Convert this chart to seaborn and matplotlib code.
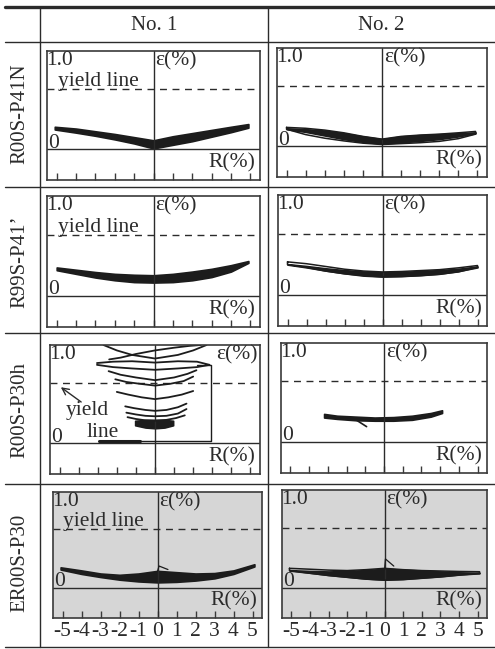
import numpy as np
import seaborn as sns
import matplotlib.pyplot as plt

sns.set_theme(style="white")
plt.rcParams['font.family'] = ['Liberation Serif', 'DejaVu Serif']

W, H = 495, 649
INK = '#2b2b2b'
FILL = '#1c1c1c'
FS = 15
PFS = 15.5

col_titles = ['No. 1', 'No. 2']
row_titles = ['R00S-P41N', 'R99S-P41\u2019', 'R00S-P30h', 'ER00S-P30']
r_ticks = [-5, -4, -3, -2, -1, 0, 1, 2, 3, 4, 5]
r_ticklabels = ['-5', '-4', '-3', '-2', '-1', '0', '1', '2', '3', '4', '5']
yield_strain = 0.667

# R00S-P41N  No.1 (dense band, V shape)
p11_r = [-5.1, -4, -3, -2, -1, 0, 1, 2, 3, 4, 4.9]
p11_up = [0.25, 0.23, 0.20, 0.17, 0.135, 0.10, 0.145, 0.18, 0.215, 0.25, 0.28]
p11_lo = [0.22, 0.185, 0.15, 0.11, 0.065, 0.01, 0.05, 0.09, 0.14, 0.19, 0.24]

# R00S-P41N  No.2
p12_r = [-5, -4, -3, -2, -1, 0, 1, 2, 3, 4, 4.9]
p12_out_up = [0.21, 0.20, 0.18, 0.15, 0.11, 0.08, 0.11, 0.125, 0.135, 0.15, 0.165]
p12_out_lo = [0.19, 0.13, 0.09, 0.06, 0.035, 0.02, 0.03, 0.04, 0.055, 0.085, 0.135]
p12_core_up = [0.20, 0.19, 0.175, 0.145, 0.11, 0.08, 0.11, 0.125, 0.135, 0.145, 0.155]
p12_core_lo = [0.19, 0.16, 0.12, 0.08, 0.05, 0.03, 0.045, 0.06, 0.08, 0.11, 0.145]

# R99S-P41'  No.1
p21_r = [-5, -4, -3, -2, -1, 0, 1, 2, 3, 4, 4.9]
p21_up = [0.31, 0.285, 0.26, 0.24, 0.23, 0.225, 0.24, 0.265, 0.295, 0.335, 0.38]
p21_lo = [0.28, 0.24, 0.20, 0.17, 0.15, 0.145, 0.15, 0.17, 0.205, 0.265, 0.36]

# R99S-P41'  No.2
p22_r = [-5, -4, -3, -2, -1, 0, 1, 2, 3, 4, 5]
p22_out_up = [0.36, 0.34, 0.31, 0.28, 0.26, 0.25, 0.255, 0.265, 0.275, 0.295, 0.32]
p22_out_lo = [0.33, 0.30, 0.26, 0.23, 0.21, 0.196, 0.20, 0.21, 0.225, 0.25, 0.30]
p22_core_up = [0.335, 0.315, 0.29, 0.27, 0.255, 0.245, 0.25, 0.26, 0.27, 0.285, 0.31]
p22_core_lo = [0.33, 0.30, 0.265, 0.235, 0.21, 0.20, 0.205, 0.215, 0.23, 0.26, 0.30]

# R00S-P30h  No.1 : individual loops climbing upward
p31_loops = [
    ([-2.7, -2.0, -1.2, 0, 1.2, 2.0, 2.7], [1.09, 1.03, 0.98, 0.94, 0.98, 1.03, 1.09]),
    ([-2.4, -1.8, -1.0, 0, 1.0, 1.8, 2.4], [0.93, 0.95, 0.99, 1.03, 1.06, 1.08, 1.09]),
    ([-3.04, -2.2, -1.2, 0, 1.2, 2.2, 2.86, 2.2, 1.2, 0, -1.2, -2.2, -3.04],
     [0.89, 0.905, 0.91, 0.895, 0.91, 0.905, 0.87, 0.845, 0.83, 0.815, 0.83, 0.845, 0.87]),
    ([-2.43, -1.8, -1.0, 0, 1.0, 1.7, 2.17], [0.80, 0.76, 0.73, 0.70, 0.73, 0.77, 0.81]),
    ([-2.08, -1.5, -0.8, 0, 0.8, 1.5, 2.0], [0.71, 0.68, 0.66, 0.64, 0.66, 0.69, 0.74]),
    ([-2.0, -1.4, -0.7, 0, 0.7, 1.4, 2.0], [0.57, 0.54, 0.51, 0.49, 0.51, 0.54, 0.58]),
    ([-1.56, -1.1, -0.5, 0, 0.6, 1.2, 1.65], [0.41, 0.39, 0.37, 0.36, 0.37, 0.40, 0.44]),
    ([-1.5, -1.0, -0.5, 0, 0.6, 1.2, 1.65], [0.34, 0.32, 0.305, 0.30, 0.305, 0.33, 0.38]),
    ([-1.44, -1.0, -0.5, 0, 0.6, 1.1, 1.56], [0.29, 0.27, 0.255, 0.25, 0.26, 0.28, 0.31]),
]
p31_blob_r = [-1.04, -0.5, 0, 0.5, 0.95]
p31_blob_up = [0.25, 0.26, 0.26, 0.26, 0.25]
p31_blob_lo = [0.2, 0.175, 0.167, 0.175, 0.2]
p31_frame_r = [-2.95, 2.95, 2.95, 2.2]
p31_frame_e = [0.03, 0.03, 0.87, 0.87]

# R00S-P30h  No.2
p32_r = [-3.2, -2.5, -1.5, -0.5, 0.5, 1.5, 2.5, 3.1]
p32_up = [0.31, 0.29, 0.28, 0.27, 0.275, 0.29, 0.32, 0.35]
p32_lo = [0.27, 0.255, 0.24, 0.235, 0.235, 0.245, 0.28, 0.32]
p32_tail_r = [-1.46, -0.93]
p32_tail_e = [0.24, 0.17]

# ER00S-P30  No.1
p41_r = [-5.1, -4, -3, -2, -1, 0, 1, 2, 3, 4, 5.1]
p41_up = [0.235, 0.20, 0.165, 0.15, 0.165, 0.195, 0.18, 0.165, 0.17, 0.20, 0.27]
p41_lo = [0.21, 0.16, 0.125, 0.095, 0.075, 0.064, 0.07, 0.085, 0.11, 0.16, 0.245]
p41_spike_r = [0, 0.08, 0.55]
p41_spike_e = [0.19, 0.25, 0.21]

# ER00S-P30  No.2
p42_r = [-5.1, -4, -3, -2, -1, 0, 1, 2, 3, 4, 5.1]
p42_out_up = [0.215, 0.205, 0.195, 0.19, 0.20, 0.215, 0.20, 0.19, 0.185, 0.18, 0.177]
p42_out_lo = [0.19, 0.16, 0.135, 0.115, 0.095, 0.083, 0.09, 0.105, 0.12, 0.14, 0.158]
p42_core_up = [0.195, 0.185, 0.18, 0.185, 0.195, 0.21, 0.20, 0.19, 0.18, 0.17, 0.165]
p42_core_lo = [0.19, 0.165, 0.14, 0.12, 0.10, 0.088, 0.095, 0.11, 0.125, 0.145, 0.16]
p42_spike_r = [0, 0.05, 0.5]
p42_spike_e = [0.2, 0.32, 0.24]

# panel boxes in pixels (left, top, right, bottom)
boxes = {
    (0, 0): (47, 51, 260, 180), (0, 1): (277, 48, 487, 177),
    (1, 0): (47, 196, 260, 327), (1, 1): (278, 195, 487, 326),
    (2, 0): (50, 345, 260, 474), (2, 1): (281, 343, 487, 473),
    (3, 0): (53, 492, 262, 618), (3, 1): (282, 490, 487, 618),
}


def rect(l, t, r, b):
    return [l / W, 1 - b / H, (r - l) / W, (b - t) / H]


def line(ax, x, y, lw=1.2):
    sns.lineplot(x=x, y=y, sort=False, estimator=None, color=FILL,
                 linewidth=lw, ax=ax)


def band(ax, r, lo, up):
    ax.fill_between(r, lo, up, color=FILL, linewidth=1.2, edgecolor=FILL)


def loop(ax, r, up, lo, lw=1.1):
    line(ax, list(r) + list(r[::-1]) + [r[0]], list(up) + list(lo[::-1]) + [up[0]], lw)


fig = plt.figure(figsize=(W / 100, H / 100), dpi=100)
fig.patch.set_facecolor('white')

# table frame
tab = fig.add_axes([0, 0, 1, 1])
tab.set_xlim(0, W)
tab.set_ylim(H, 0)
tab.axis('off')
tab.plot([5, W], [7, 7], color=INK, lw=2.4)
for yy in [42, 187, 333, 484, 647]:
    tab.plot([5, W], [yy, yy], color=INK, lw=1.0)
for xx in [40, 268]:
    tab.plot([xx, xx], [7, 647], color=INK, lw=1.0)
tab.text(154, 25, col_titles[0], ha='center', va='center', fontsize=FS, color=INK)
tab.text(381, 25, col_titles[1], ha='center', va='center', fontsize=FS, color=INK)
for yc, lab in zip([114, 262, 410, 563], row_titles):
    tab.text(20, yc, lab, ha='center', va='center', rotation=90, fontsize=FS, color=INK)

for (i, j), b in boxes.items():
    ax = fig.add_axes(rect(*b))
    ax.set_xlim(-5.5, 5.5)
    ax.set_ylim(-0.34, 1.09)
    ax.set_facecolor('#d6d6d6' if i == 3 else 'white')
    for s in ax.spines.values():
        s.set_color('#3a3a3a')
        s.set_linewidth(1.2)
    ax.set_xticks(r_ticks)
    ax.set_yticks([])
    ax.tick_params(axis='x', bottom=True, direction='in', length=5, width=1,
                   color='#3a3a3a', labelsize=PFS, labelcolor=INK, pad=3,
                   labelbottom=(i == 3))
    if i == 3:
        ax.set_xticklabels(r_ticklabels)
    ax.axhline(0, color=INK, lw=1.0)
    ax.axvline(0, color=INK, lw=1.0)
    ax.axhline(yield_strain, color=INK, lw=1.0, ls=(0, (5, 4)))

    ax.text(-5.55, 1.09, '1.0', ha='left', va='top', fontsize=PFS, color=INK)
    ax.text(-5.45, 0.02, '0', ha='left', va='baseline', fontsize=PFS, color=INK)
    ax.text(5.25, -0.2, 'R(%)', ha='right', va='baseline', fontsize=PFS, color=INK)
    if (i, j) == (2, 0):
        ax.text(5.35, 1.09, '\u03b5(%)', ha='right', va='top', fontsize=PFS, color=INK)
    else:
        ax.text(0.1, 1.09, '\u03b5(%)', ha='left', va='top', fontsize=PFS, color=INK)
    if j == 0 and i != 2:
        ax.text(-4.95, 0.70, 'yield line', ha='left', va='baseline', fontsize=PFS, color=INK)

    if (i, j) == (0, 0):
        band(ax, p11_r, p11_lo, p11_up)
    elif (i, j) == (0, 1):
        loop(ax, p12_r, p12_out_up, p12_out_lo)
        band(ax, p12_r, p12_core_lo, p12_core_up)
    elif (i, j) == (1, 0):
        band(ax, p21_r, p21_lo, p21_up)
    elif (i, j) == (1, 1):
        loop(ax, p22_r, p22_out_up, p22_out_lo)
        band(ax, p22_r, p22_core_lo, p22_core_up)
    elif (i, j) == (2, 0):
        for lr, le in p31_loops:
            line(ax, lr, le, 1.3)
        band(ax, p31_blob_r, p31_blob_lo, p31_blob_up)
        line(ax, p31_frame_r, p31_frame_e, 1.0)
        line(ax, [-2.95, -0.8], [0.03, 0.03], 2.2)
        ax.text(-4.7, 0.315, 'yield', ha='left', va='baseline', fontsize=PFS, color=INK)
        ax.text(-3.6, 0.07, 'line', ha='left', va='baseline', fontsize=PFS, color=INK)
        ax.annotate('', xy=(-5.05, 0.64), xytext=(-3.75, 0.44),
                    arrowprops=dict(arrowstyle='->', color=INK, lw=1.0))
    elif (i, j) == (2, 1):
        band(ax, p32_r, p32_lo, p32_up)
        line(ax, p32_tail_r, p32_tail_e, 1.2)
    elif (i, j) == (3, 0):
        band(ax, p41_r, p41_lo, p41_up)
        line(ax, p41_spike_r, p41_spike_e, 0.9)
    elif (i, j) == (3, 1):
        loop(ax, p42_r, p42_out_up, p42_out_lo)
        band(ax, p42_r, p42_core_lo, p42_core_up)
        line(ax, p42_spike_r, p42_spike_e, 0.9)

fig.savefig('out.png', dpi=100)
